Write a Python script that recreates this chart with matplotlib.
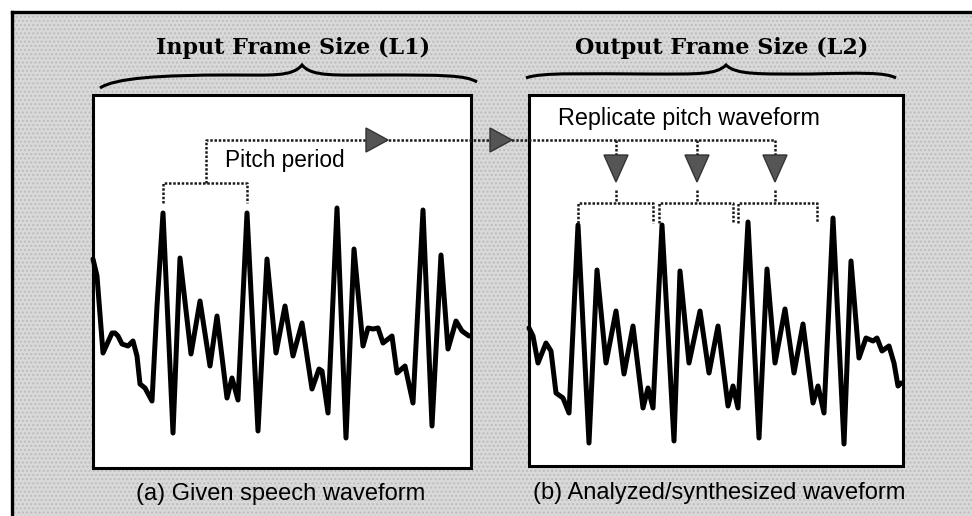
import matplotlib
matplotlib.use("Agg")
import matplotlib.pyplot as plt
from matplotlib.patches import Rectangle, Polygon, PathPatch
from matplotlib.path import Path

# waveform samples: time (px from frame left) and amplitude (px above frame bottom)
input_t = [0, 4, 10, 19, 22, 25, 29, 35, 40, 44, 47, 52, 59, 64, 70, 80, 87, 98, 107, 117,
           124, 134, 139, 145, 154, 165, 174, 183, 192, 200, 209, 219, 226, 229, 235, 244,
           253, 261, 270, 275, 280, 285, 290, 299, 304, 312, 320, 330, 339, 348, 355, 363,
           369, 376]
input_a = [209, 192, 115, 135, 135, 132, 124, 122, 127, 112, 84, 80, 67, 162, 255, 35, 210,
           114, 167, 102, 152, 70, 90, 68, 255, 37, 209, 115, 162, 112, 145, 79, 99, 97, 55,
           260, 30, 219, 122, 140, 139, 140, 125, 132, 95, 102, 65, 258, 42, 213, 119, 147,
           137, 132]

output_t = [0, 4, 9, 17, 22, 27, 34, 40, 49, 60, 68, 77, 87, 95, 104, 114, 119, 124, 133,
            145, 151, 160, 171, 180, 189, 199, 204, 209, 219, 230, 238, 246, 256, 265, 274,
            284, 289, 295, 304, 315, 322, 330, 337, 344, 348, 353, 360, 365, 369, 372]
output_a = [138, 130, 103, 123, 115, 73, 68, 53, 241, 23, 196, 103, 155, 92, 140, 58, 78,
            58, 241, 25, 195, 103, 155, 93, 140, 60, 80, 58, 244, 28, 197, 103, 157, 93, 142,
            63, 80, 53, 248, 22, 205, 108, 128, 125, 128, 115, 120, 103, 80, 83]

titles = ["Input Frame Size (L1)", "Output Frame Size (L2)"]
captions = ["(a) Given speech waveform", "(b) Analyzed/synthesized waveform"]
pitch_label = "Pitch period"
replicate_label = "Replicate pitch waveform"

# pitch period bracket on the input, and the three copies on the output
pitch_span = (163, 247)
replica_spans = [(578, 653), (659, 733), (738, 817)]
replica_drops = [616, 697, 775]

BG = "#d9d9d9"
DOT = dict(color="#1a1a1a", lw=1.8, ls=(0, (1.0, 0.7)), solid_capstyle="butt")

fig = plt.figure(figsize=(9.72, 5.16), dpi=100)
ax = fig.add_axes([0, 0, 1, 1])
ax.set_xlim(0, 972)
ax.set_ylim(516, 0)
ax.axis("off")

# stippled background and the outer border
ax.add_patch(Rectangle((12, 12), 972, 516, facecolor=BG, edgecolor="#bdbdbd",
                       hatch="....", lw=0, zorder=0))
ax.plot([12, 972], [12, 12], color="black", lw=2.4, zorder=1)
ax.plot([12, 12], [12, 516], color="black", lw=2.4, zorder=1)

frames = [(93, 95, 471, 468), (529, 95, 903, 466)]
for (x0, y0, x1, y1) in frames:
    ax.add_patch(Rectangle((x0, y0), x1 - x0, y1 - y0, facecolor="white",
                           edgecolor="black", lw=2.2, zorder=2))

# waveforms
for (x0, y0, x1, y1), t, a in zip(frames, [input_t, output_t], [input_a, output_a]):
    xs = [x0 + v for v in t]
    ys = [y1 - v for v in a]
    ax.plot(xs, ys, color="black", lw=3.6, solid_joinstyle="round",
            solid_capstyle="round", zorder=4)

# braces above each frame
def brace(pts):
    codes = [Path.MOVETO] + [Path.CURVE4] * (len(pts) - 1)
    ax.add_patch(PathPatch(Path(pts, codes), facecolor="none", edgecolor="black",
                           lw=2.2, zorder=3))

brace([(100, 88), (115, 78), (160, 75), (230, 75),
       (272, 75), (292, 77), (302, 65),
       (312, 77), (334, 75), (385, 75),
       (440, 75), (466, 75), (477, 82)])
brace([(526, 78), (540, 72), (590, 74), (650, 74),
       (698, 74), (716, 75), (726, 65),
       (736, 75), (760, 74), (810, 74),
       (860, 73), (885, 72), (896, 78)])

ax.text(293, 48, titles[0], ha="center", va="center", fontsize=16,
        fontweight="heavy", family="DejaVu Serif", zorder=5)
ax.text(722, 48, titles[1], ha="center", va="center", fontsize=16,
        fontweight="heavy", family="DejaVu Serif", zorder=5)

# pitch period bracket and the arrow to the output frame
ax.plot([pitch_span[0], pitch_span[0], pitch_span[1], pitch_span[1]],
        [203, 183, 183, 203], zorder=5, **DOT)
ax.plot([206, 206, replica_drops[-1]], [183, 140, 140], zorder=5, **DOT)
for tip in [388, 512]:
    ax.add_patch(Polygon([(tip - 22, 128), (tip, 140), (tip - 22, 152)], closed=True,
                         facecolor="#555555", edgecolor="#333333", lw=1, zorder=6))

for cx in replica_drops:
    ax.plot([cx, cx], [140, 156], zorder=5, **DOT)
    ax.add_patch(Polygon([(cx - 12, 155), (cx + 12, 155), (cx, 182)], closed=True,
                         facecolor="#555555", edgecolor="#333333", lw=1, zorder=6))
    ax.plot([cx, cx], [190, 203], zorder=5, **DOT)

for s0, s1 in replica_spans:
    ax.plot([s0, s0, s1, s1], [223, 203, 203, 223], zorder=5, **DOT)

ax.text(225, 160, pitch_label, ha="left", va="center", fontsize=16.3,
        family="Liberation Sans", zorder=5)
ax.text(558, 119, replicate_label, ha="left", va="center", fontsize=16.8,
        family="Liberation Sans", zorder=5)

ax.text(281, 494, captions[0], ha="center", va="center", fontsize=17,
        family="Liberation Sans", zorder=5)
ax.text(719, 493, captions[1], ha="center", va="center", fontsize=17,
        family="Liberation Sans", zorder=5)

fig.savefig("out.png", dpi=100, facecolor="white")
